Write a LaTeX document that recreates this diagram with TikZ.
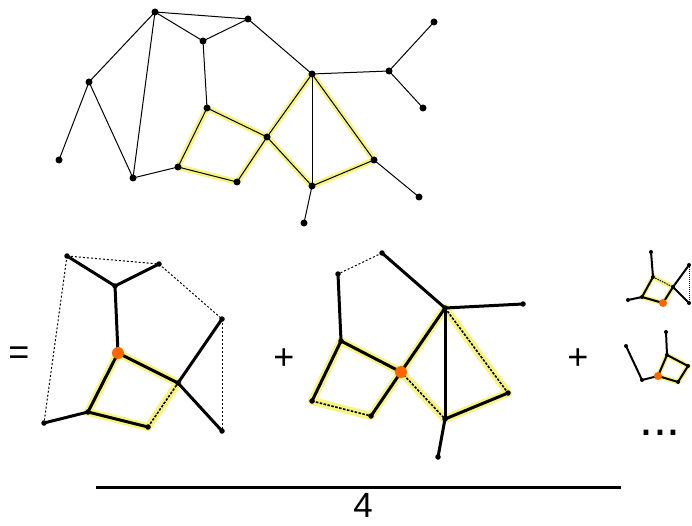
\documentclass[tikz,border=0pt]{standalone}
\usepackage{fontspec}
\setmainfont{Liberation Sans}
\pgfdeclarelayer{bg}
\pgfsetlayers{bg,main}
\definecolor{hlyel}{RGB}{248,244,130}
\definecolor{orng}{RGB}{255,102,0}
\tikzset{
  dot/.style={circle,fill=black,inner sep=0pt,minimum size=7pt},
  sdot/.style={circle,fill=black,inner sep=0pt,minimum size=5.5pt},
  tdot/.style={circle,fill=black,inner sep=0pt,minimum size=4pt},
  odot/.style={circle,fill=orng,inner sep=0pt,minimum size=12pt},
  todot/.style={circle,fill=orng,inner sep=0pt,minimum size=8pt},
  thin1/.style={line width=1pt,black},
  thick3/.style={line width=3pt,black},
  thick2/.style={line width=2pt,black},
  hl/.style={line width=6pt,hlyel,line cap=round},
  hlb/.style={line width=8pt,hlyel,line cap=round},
  hls/.style={line width=5pt,hlyel,line cap=round},
  dsh/.style={line width=1pt,black,dash pattern=on 2pt off 2pt},
  dshb/.style={line width=1.6pt,black,dash pattern=on 2.5pt off 1.5pt},
  sym/.style={font=\fontsize{36}{40}\selectfont,inner sep=0pt}
}
\begin{document}
\begin{tikzpicture}[x=1pt,y=-1pt]
\useasboundingbox (0,0) rectangle (692,526);
% ---------- top graph ----------
\node[dot] (A) at (155,12) {};
\node[dot] (B) at (248,19) {};
\node[dot] (C) at (203,41) {};
\node[dot] (D) at (89,82) {};
\node[dot] (E) at (59,160) {};
\node[dot] (F) at (133,178) {};
\node[dot] (G) at (178,167) {};
\node[dot] (H) at (207,108) {};
\node[dot] (I) at (237,182) {};
\node[dot] (J) at (267,137) {};
\node[dot] (K) at (312,74) {};
\node[dot] (L) at (389,71) {};
\node[dot] (M) at (434,22) {};
\node[dot] (N) at (423,108) {};
\node[dot] (O) at (374,160) {};
\node[dot] (P) at (419,197) {};
\node[dot] (Q) at (312,186) {};
\node[dot] (R) at (304,223) {};
\begin{pgfonlayer}{bg}
\foreach \u/\v in {G/H,H/J,G/I,I/J,J/K,J/Q,K/O,O/Q}
  \draw[hl] (\u.center) -- (\v.center);
\foreach \u/\v in {A/B,A/C,A/D,A/F,C/B,C/H,B/K,D/E,D/F,F/G,G/H,H/J,G/I,I/J,J/K,J/Q,K/Q,K/O,O/Q,O/P,Q/R,K/L,L/M,L/N}
  \draw[thin1] (\u.center) -- (\v.center);
\end{pgfonlayer}
% ---------- equals ----------
\node[sym] (eq) at (19,356) {=};
% ---------- bottom left ----------
\node[sdot] (a1) at (67,256) {};
\node[sdot] (a2) at (159,264) {};
\node[sdot] (a3) at (115,286) {};
\node[sdot] (a4) at (222,319) {};
\node[odot] (ao) at (118,353) {};
\node[sdot] (a5) at (178,383) {};
\node[sdot] (a6) at (88,412) {};
\node[sdot] (a7) at (44,423) {};
\node[sdot] (a8) at (148,427) {};
\node[sdot] (a9) at (222,431) {};
\begin{pgfonlayer}{bg}
\foreach \u/\v in {ao/a5,ao/a6,a6/a8,a8/a5}
  \draw[hlb] (\u.center) -- (\v.center);
\foreach \u/\v in {a1/a3,a2/a3,a3/ao,a4/a5,a5/a9,ao/a5,ao/a6,a6/a8,a7/a6}
  \draw[thick3] (\u.center) -- (\v.center);
\foreach \u/\v in {a1/a2,a2/a4,a1/a7,a4/a9}
  \draw[dsh] (\u.center) -- (\v.center);
\draw[dshb] (a8.center) -- (a5.center);
\end{pgfonlayer}
% ---------- plus ----------
\node[sym] (p1) at (284,359) {+};
% ---------- bottom middle ----------
\node[sdot] (b1) at (382,253) {};
\node[sdot] (b2) at (338,274) {};
\node[sdot] (b3) at (445,308) {};
\node[sdot] (b4) at (523,304) {};
\node[sdot] (b5) at (341,341) {};
\node[odot] (bo) at (401,372) {};
\node[sdot] (b6) at (312,401) {};
\node[sdot] (b7) at (371,416) {};
\node[sdot] (b8) at (508,393) {};
\node[sdot] (b9) at (445,419) {};
\node[sdot] (b10) at (438,457) {};
\begin{pgfonlayer}{bg}
\foreach \u/\v in {b5/bo,b5/b6,b6/b7,b7/bo,bo/b3,bo/b9,b3/b8,b8/b9}
  \draw[hlb] (\u.center) -- (\v.center);
\foreach \u/\v in {b1/b3,b3/b4,b2/b5,b5/bo,b5/b6,b7/bo,bo/b3,b3/b9,b8/b9,b9/b10}
  \draw[thick3] (\u.center) -- (\v.center);
\draw[dsh] (b1.center) -- (b2.center);
\foreach \u/\v in {b6/b7,bo/b9,b3/b8}
  \draw[dshb] (\u.center) -- (\v.center);
\end{pgfonlayer}
% ---------- plus ----------
\node[sym] (p2) at (578,359) {+};
% ---------- right small 1 ----------
\node[tdot] (c1) at (651,252) {};
\node[tdot] (c2) at (653,277) {};
\node[tdot] (c3) at (689,265) {};
\node[tdot] (c4) at (673,287) {};
\node[tdot] (c5) at (628,300) {};
\node[tdot] (c6) at (642,297) {};
\node[todot] (co) at (663,303) {};
\node[tdot] (c8) at (689,303) {};
\begin{pgfonlayer}{bg}
\foreach \u/\v in {c2/c6,c6/co,co/c4,c2/c4}
  \draw[hls] (\u.center) -- (\v.center);
\foreach \u/\v in {c1/c2,c2/c6,c6/co,co/c4,c4/c3,c4/c8,c5/c6}
  \draw[thick2] (\u.center) -- (\v.center);
\draw[line width=1pt,black,dash pattern=on 1.5pt off 1pt] (c2.center) -- (c4.center);
\draw[line width=0.8pt,black,dash pattern=on 1pt off 1pt] (c3.center) -- (c8.center);
\end{pgfonlayer}
% ---------- right small 2 ----------
\node[tdot] (d1) at (666,332) {};
\node[tdot] (d2) at (626,346) {};
\node[tdot] (d3) at (667,355) {};
\node[tdot] (d4) at (688,366) {};
\node[tdot] (d5) at (678,382) {};
\node[todot] (do) at (658,376) {};
\node[tdot] (d7) at (642,380) {};
\begin{pgfonlayer}{bg}
\foreach \u/\v in {d3/d4,d4/d5,d5/do,do/d3}
  \draw[hls] (\u.center) -- (\v.center);
\foreach \u/\v in {d1/d3,d3/d4,d4/d5,d5/do,do/d3,do/d7,d7/d2}
  \draw[thick2] (\u.center) -- (\v.center);
\end{pgfonlayer}
% ---------- dots ----------
\node[font=\fontsize{50}{52}\selectfont,inner sep=0pt] (ell) at (660,433) {...};
% ---------- fraction ----------
\coordinate (fl) at (96,487);
\coordinate (fr) at (621,487);
\draw[line width=3pt] (fl) -- (fr);
\node[font=\fontsize{35}{38}\selectfont,inner sep=0pt] (four) at (363,505.5) {4};
\end{tikzpicture}
\end{document}
